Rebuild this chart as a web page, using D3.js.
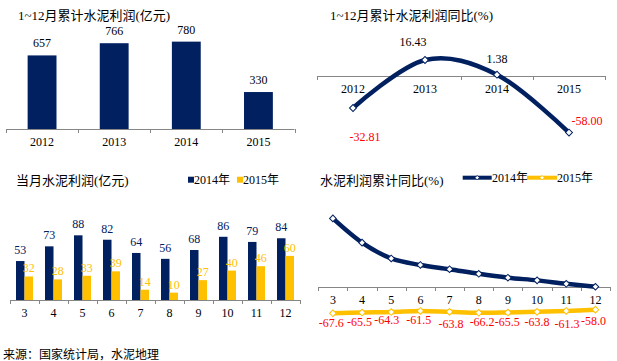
<!DOCTYPE html>
<html><head><meta charset="utf-8">
<script src="https://cdn.jsdelivr.net/npm/d3@7"></script>
<style>body{margin:0;background:#fff}svg{display:block}</style>
</head><body>
<svg id="c" width="617" height="361"></svg>
<script>
// ---------------- data ----------------
const years = ["2012", "2013", "2014", "2015"];
const annualProfit = [657, 766, 780, 330];
const annualYoy = [-32.81, 16.43, 1.38, -58.00];
const months = ["3", "4", "5", "6", "7", "8", "9", "10", "11", "12"];
const monthly2014 = [53, 73, 88, 82, 64, 56, 68, 86, 79, 84];
const monthly2015 = [32, 28, 33, 39, 14, 10, 27, 40, 46, 60];
const cumYoy2014 = [179, 116, 75, 58, 47, 35, 25, 18, 9, 1.4];
const cumYoy2015 = [-67.6, -65.5, -64.3, -61.5, -63.8, -66.2, -65.5, -63.8, -61.3, -58.0];
const seriesNames = ["2014年", "2015年"];
const titles = ["1~12月累计水泥利润(亿元)", "1~12月累计水泥利润同比(%)", "当月水泥利润(亿元)", "水泥利润累计同比(%)"];
const sourceText = "来源：国家统计局，水泥地理";

// ---------------- styles ----------------
const NAVY = "#002060", GOLD = "#ffc000", RED = "#ff0000", AXIS = "#868686";
const FONT = "'Liberation Serif','Times New Roman','Noto Sans CJK SC',serif";
const CJK = "'Noto Sans CJK SC','Liberation Sans',sans-serif";
const fmt = p => d => d.toFixed(p);   // plain hyphen-minus like the original

const svg = d3.select("#c").style("font-family", FONT);

function catAxis(x, y0, fs) {
  const g = svg.append("g").attr("transform", `translate(0,${y0})`);
  g.call(d3.axisBottom(x).tickSize(0).tickPadding(8.5));
  g.select(".domain").remove();
  g.selectAll("text").attr("font-family", FONT).attr("font-size", fs).attr("fill", "#000");
  const [r0, r1] = x.range();
  g.append("line").attr("x1", r0).attr("x2", r1).attr("y1", 0.5).attr("y2", 0.5)
    .attr("stroke", AXIS).attr("stroke-width", 1);
  const bounds = x.domain().map(d => x(d)).concat([r1]);
  g.selectAll(".bt").data(bounds).join("line").attr("class", "bt")
    .attr("x1", d => Math.round(d) + 0.5).attr("x2", d => Math.round(d) + 0.5)
    .attr("y1", 0).attr("y2", 4).attr("stroke", AXIS).attr("stroke-width", 1);
  return g;
}
function title(txt, x, y) {
  svg.append("text").attr("x", x).attr("y", y).attr("font-size", 13).attr("fill", "#000").text(txt);
}
const diamond = s => d3.symbol().type(d3.symbolSquare).size(s)();

// ---------------- panel 1: annual profit bars ----------------
{
  title(titles[0], 18, 19.5);
  const x = d3.scaleBand(years, [6, 294.5]);
  const y = d3.scaleLinear([0, 900], [129, 28.2]);
  const w = x.bandwidth() * 0.4;
  svg.append("g").selectAll("rect").data(annualProfit).join("rect")
    .attr("x", (d, i) => x(years[i]) + (x.bandwidth() - w) / 2)
    .attr("y", d => y(d)).attr("width", w).attr("height", d => y(0) - y(d))
    .attr("fill", NAVY);
  svg.append("g").selectAll("text").data(annualProfit).join("text")
    .attr("x", (d, i) => x(years[i]) + x.bandwidth() / 2)
    .attr("y", d => y(d) - 8).attr("text-anchor", "middle")
    .attr("font-size", 12).attr("fill", "#000").text(d => d);
  catAxis(x, 129, 12);
}

// ---------------- panel 2: annual yoy line ----------------
{
  title(titles[1], 330, 19.5);
  const x = d3.scaleBand(years, [317, 605]);
  const y = d3.scaleLinear([-70, 30], [144.25, 46.75]);
  catAxis(x, 76, 12);
  const cx = i => x(years[i]) + x.bandwidth() / 2;
  const line = d3.line().x((d, i) => cx(i)).y(d => y(d)).curve(d3.curveCardinal.tension(0));
  svg.append("path").datum(annualYoy).attr("d", line).attr("fill", "none")
    .attr("stroke", NAVY).attr("stroke-width", 4.5).attr("stroke-linejoin", "round");
  svg.append("g").selectAll("path").data(annualYoy).join("path")
    .attr("d", diamond(24))
    .attr("transform", (d, i) => `translate(${cx(i)},${y(d)}) rotate(45)`)
    .attr("fill", "#fff").attr("stroke", NAVY).attr("stroke-width", 1);
  const off = [[12, 33], [-12, -13.7], [0, -11.7], [18, -7.7]];
  svg.append("g").selectAll("text").data(annualYoy).join("text")
    .attr("x", (d, i) => cx(i) + off[i][0]).attr("y", (d, i) => y(d) + off[i][1])
    .attr("text-anchor", "middle").attr("font-size", 12)
    .attr("fill", d => d < 0 ? RED : "#000").text(fmt(2));
}

// ---------------- panel 3: monthly profit grouped bars ----------------
{
  title(titles[2], 16, 184.5);
  const x = d3.scaleBand(months, [10, 300]);
  const x1 = d3.scaleBand([0, 1], [6, 23]);
  const y = d3.scaleLinear([0, 120], [300, 211.8]);
  const series = [monthly2014, monthly2015];
  const cols = [NAVY, GOLD];
  series.forEach((s, k) => {
    svg.append("g").selectAll("rect").data(s).join("rect")
      .attr("x", (d, i) => x(months[i]) + x1(k)).attr("y", d => y(d))
      .attr("width", x1.bandwidth()).attr("height", d => y(0) - y(d)).attr("fill", cols[k]);
  });
  series.forEach((s, k) => {
    svg.append("g").selectAll("text").data(s).join("text")
      .attr("x", (d, i) => x(months[i]) + x1(k) + x1.bandwidth() / 2)
      .attr("y", d => y(d) - (k === 0 ? 7 : 4)).attr("text-anchor", "middle")
      .attr("font-size", 12).attr("fill", cols[k]).text(d => d);
  });
  catAxis(x, 300, 12);
  // legend
  const lg = svg.append("g");
  [[188, 194], [237, 243]].forEach(([rx, tx], k) => {
    lg.append("rect").attr("x", rx).attr("y", 176.7).attr("width", 6).attr("height", 6).attr("fill", cols[k]);
    lg.append("text").attr("x", tx).attr("y", 184).attr("font-size", 12).attr("fill", "#000").text(seriesNames[k]);
  });
}

// ---------------- panel 4: cumulative yoy lines ----------------
{
  title(titles[3], 320, 184.5);
  const x = d3.scaleBand(months, [318.3, 610]);
  const y = d3.scaleLinear([-80, 200], [318.1, 210.3]);
  catAxis(x, 287, 12);
  const cx = i => x(months[i]) + x.bandwidth() / 2;
  const line = d3.line().x((d, i) => cx(i)).y(d => y(d)).curve(d3.curveCardinal.tension(0));
  const series = [cumYoy2014, cumYoy2015];
  const cols = [NAVY, GOLD];
  series.forEach((s, k) => {
    svg.append("path").datum(s).attr("d", line).attr("fill", "none")
      .attr("stroke", cols[k]).attr("stroke-width", 4.5).attr("stroke-linejoin", "round");
    svg.append("g").selectAll("path").data(s).join("path")
      .attr("d", diamond(22))
      .attr("transform", (d, i) => `translate(${cx(i)},${y(d)}) rotate(45)`)
      .attr("fill", "#fff").attr("stroke", cols[k]).attr("stroke-width", 1);
  });
  const off = [[-1.6, 14], [-2.5, 13], [-4.5, 12.4], [-1.7, 13.4], [1.4, 16], [3.4, 13], [-0.7, 13], [0, 14], [0.7, 17], [-2, 15]];
  svg.append("g").selectAll("text").data(cumYoy2015).join("text")
    .attr("x", (d, i) => cx(i) + off[i][0]).attr("y", (d, i) => y(d) + off[i][1])
    .attr("text-anchor", "middle").attr("font-size", 12).attr("fill", RED)
    .text(fmt(1));
  // legend
  const lg = svg.append("g");
  [[462.7, 491.7, 492], [527, 557, 557]].forEach(([a, b, tx], k) => {
    lg.append("line").attr("x1", a).attr("x2", b).attr("y1", 177.7).attr("y2", 177.7)
      .attr("stroke", cols[k]).attr("stroke-width", 4);
    lg.append("path").attr("d", diamond(10))
      .attr("transform", `translate(${(a + b) / 2},177.7) rotate(45)`)
      .attr("fill", "#fff").attr("stroke", cols[k]).attr("stroke-width", 0.8);
    lg.append("text").attr("x", tx).attr("y", 182).attr("font-size", 12).attr("fill", "#000").text(seriesNames[k]);
  });
}

// ---------------- source ----------------
svg.append("text").attr("x", 3).attr("y", 358.5).attr("font-family", CJK)
  .attr("font-size", 12).attr("fill", "#000").text(sourceText);
</script>
</body></html>
